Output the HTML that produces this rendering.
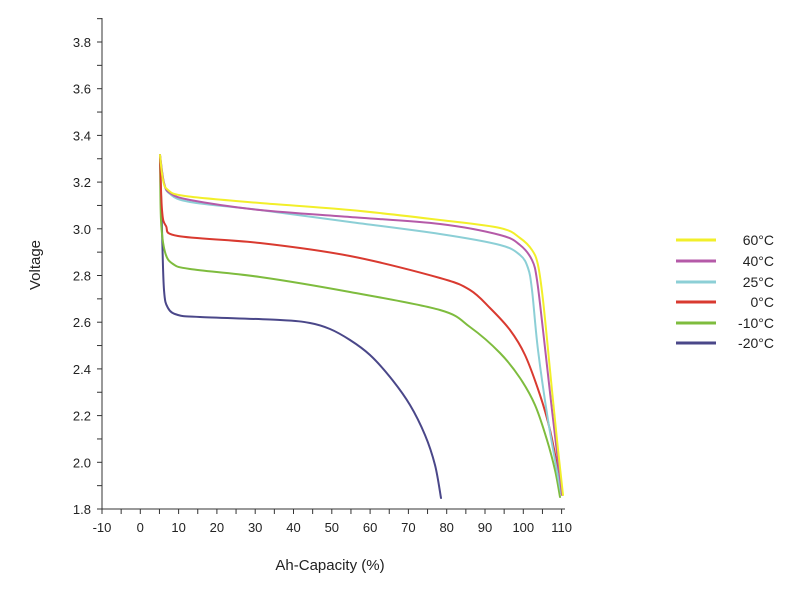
<!DOCTYPE html>
<html><head><meta charset="utf-8"><style>
body{margin:0;background:#fff;}
svg{display:block;font-family:"Liberation Sans",sans-serif;}
</style></head><body>
<svg id="s" width="800" height="600" xmlns="http://www.w3.org/2000/svg">
<rect width="800" height="600" fill="#fff"/>
<g id="ax" stroke="#333" stroke-width="1" fill="none"></g>
<g id="lab" font-size="13" fill="#222"></g>
<g id="cv" fill="none" stroke-width="2" stroke-linejoin="round" stroke-linecap="round"></g>
<text x="40" y="265" font-size="15" fill="#222" text-anchor="middle" transform="rotate(-90 40 265)">Voltage</text>
<text x="330" y="570" font-size="15" fill="#222" text-anchor="middle">Ah-Capacity (%)</text>
<g font-size="14" fill="#222" text-anchor="end">
<line x1="676" y1="240" x2="716" y2="240" stroke="#f2ef2a" stroke-width="3"/><text x="774" y="245">60°C</text>
<line x1="676" y1="261" x2="716" y2="261" stroke="#b55aa8" stroke-width="3"/><text x="774" y="266">40°C</text>
<line x1="676" y1="282" x2="716" y2="282" stroke="#8ccfd6" stroke-width="3"/><text x="774" y="287">25°C</text>
<line x1="676" y1="302" x2="716" y2="302" stroke="#d93a30" stroke-width="3"/><text x="774" y="307">0°C</text>
<line x1="676" y1="323" x2="716" y2="323" stroke="#7ebc3e" stroke-width="3"/><text x="774" y="328">-10°C</text>
<line x1="676" y1="343" x2="716" y2="343" stroke="#4a4789" stroke-width="3"/><text x="774" y="348">-20°C</text>
</g>
</svg>
<script>
const NS="http://www.w3.org/2000/svg";
const X=v=>102+(v+10)*3.83, Y=V=>509-(V-1.8)*233.5;
const ax=document.getElementById('ax'),lab=document.getElementById('lab'),cv=document.getElementById('cv');
function el(p,t,a,txt){const e=document.createElementNS(NS,t);for(const k in a)e.setAttribute(k,a[k]);if(txt)e.textContent=txt;p.appendChild(e);return e;}
el(ax,'line',{x1:102,y1:18,x2:102,y2:509});
el(ax,'line',{x1:102,y1:509,x2:565,y2:509});
for(let v=-10;v<=110;v+=5){el(ax,'line',{x1:X(v),y1:509,x2:X(v),y2:514});
 if(v%10==0)el(lab,'text',{x:X(v),y:532,'text-anchor':'middle'},String(v));}
for(let i=0;i<=21;i++){const V=1.8+i*0.1;const y=Y(V);el(ax,'line',{x1:97,y1:y,x2:102,y2:y});
 if(i%2==0&&V<3.85)el(lab,'text',{x:91,y:y+5,'text-anchor':'end'},V.toFixed(1));}
const C=[
["#4a4789",[[160,155],[162,230],[164,290],[168,308],[178,315],[200,317],[280,320],[310,323],[330,329],[350,340],[370,355],[390,377],[410,405],[425,435],[435,465],[441,498]]],
["#7ebc3e",[[160,155],[161,220],[165,252],[173,264],[190,269],[260,277],[350,292],[440,310],[470,327],[500,353],[520,378],[535,405],[547,440],[555,470],[560,497]]],
["#d93a30",[[160,155],[162,210],[166,226],[178,236],[260,243],[350,256],[440,278],[470,290],[490,308],[510,330],[525,355],[540,395],[550,430],[557,465],[562,493]]],
["#8ccfd6",[[160,155],[164,183],[170,194],[190,202],[260,210],[350,222],[440,234],[500,245],[520,255],[528,268],[532,290],[538,350],[548,420],[561,493]]],
["#b55aa8",[[160,155],[164,183],[170,193],[190,200],[260,210],[350,217],[440,224],[500,235],[520,245],[532,260],[537,280],[543,330],[552,410],[562,495]]],
["#f2ef2a",[[160,155],[163,180],[168,190],[185,196],[260,203],[350,210],[440,220],[500,228],[520,238],[532,250],[538,265],[543,300],[550,370],[557,440],[563,495]]]
];
function cr(p){let d='M'+p[0][0]+','+p[0][1];for(let i=0;i<p.length-1;i++){const a=p[Math.max(i-1,0)],b=p[i],c=p[i+1],e=p[Math.min(i+2,p.length-1)];
 const c1=[b[0]+(c[0]-a[0])/6,b[1]+(c[1]-a[1])/6],c2=[c[0]-(e[0]-b[0])/6,c[1]-(e[1]-b[1])/6];
 d+=` C${c1[0].toFixed(1)},${c1[1].toFixed(1)} ${c2[0].toFixed(1)},${c2[1].toFixed(1)} ${c[0]},${c[1]}`;}return d;}
for(const [c,p] of C){el(cv,'path',{stroke:c,d:cr(p)});}
</script>
</body></html>
